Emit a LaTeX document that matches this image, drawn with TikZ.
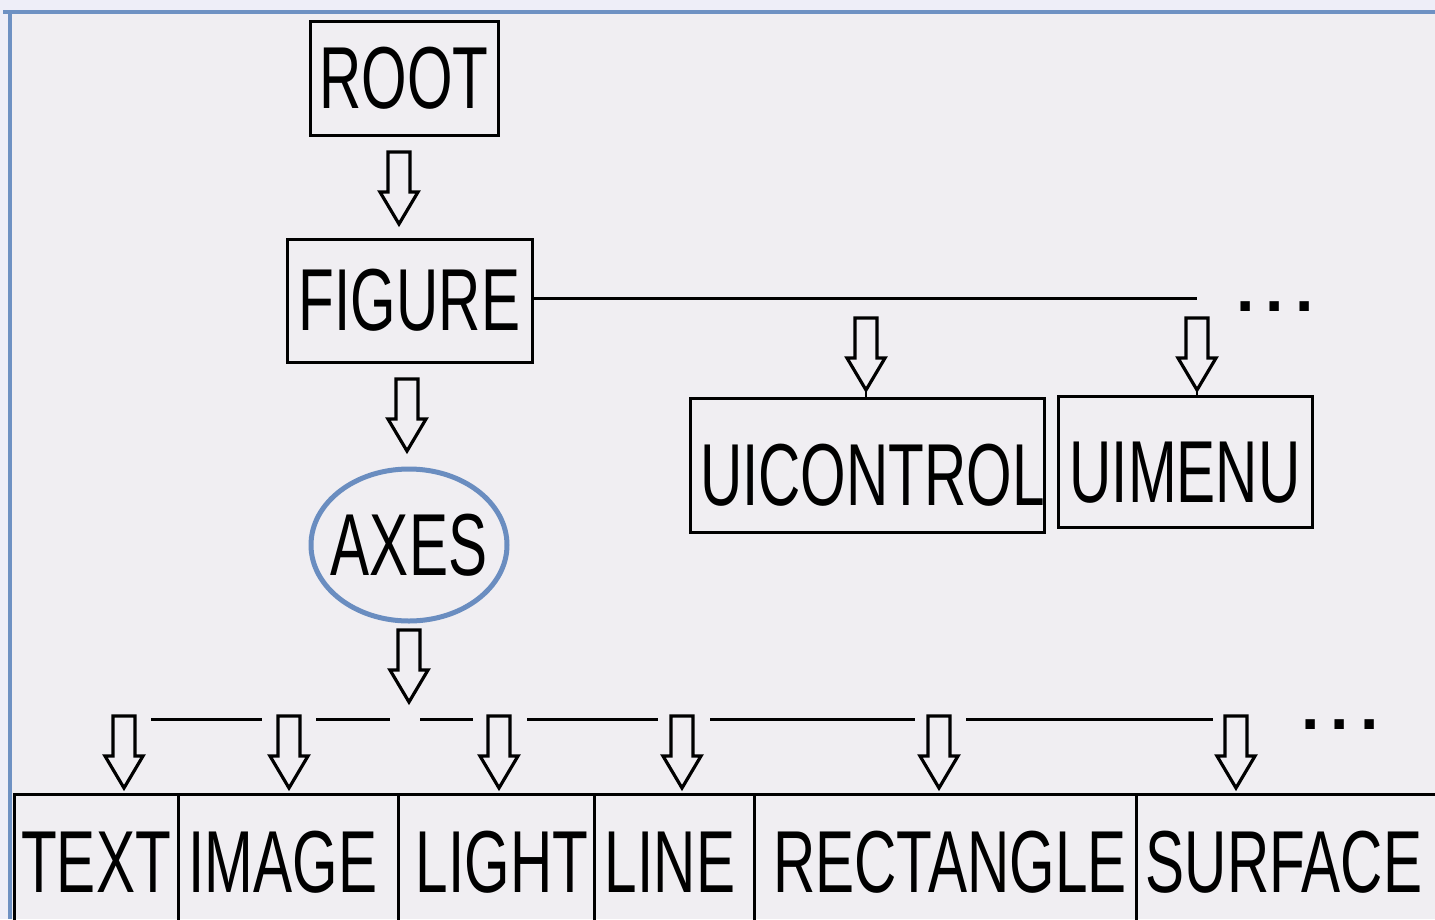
\documentclass[tikz,border=0pt]{standalone}
\usepackage{fontspec}
\usetikzlibrary{shapes.geometric}
\setmainfont{Liberation Sans}
\newfontfamily\nar[FakeStretch=0.665]{Liberation Sans}
\definecolor{bg}{RGB}{240,238,242}
\definecolor{topbg}{RGB}{238,238,248}
\definecolor{bluebd}{RGB}{110,145,195}
\definecolor{ellblue}{RGB}{106,141,192}
\begin{document}
\begin{tikzpicture}[x=1pt,y=-1pt,
  box/.style={draw, line width=3pt, inner sep=0pt, font=\nar\fontsize{88}{88}\selectfont},
  low/.style={text height=#1, text depth=0pt},
  bus/.style={line width=3pt},
  dots/.style={font=\bfseries\fontsize{66}{66}\selectfont, inner sep=0pt},
  darr/.pic={\draw[line width=3.2pt, line join=miter, fill=bg] (-11,0) -- (11,0) -- (11,40) -- (19,40) -- (0,72) -- (-19,40) -- (-11,40) -- cycle;}
]
\useasboundingbox (0,0) rectangle (1435,919);
\clip (0,0) rectangle (1435,919);
\fill[topbg] (0,0) rectangle (1435,919);
\fill[bg] (9,12) rectangle (1435,919);
\draw[bluebd, line width=4pt] (3,12) -- (1435,12);
\draw[bluebd, line width=4pt] (9.5,12) -- (9.5,919);

% top part
\node[box, minimum width=188pt, minimum height=114pt] (root) at (404,78) {ROOT};
\node[box, minimum width=245pt, minimum height=123pt] (figure) at (409.5,300.5) {FIGURE};
\node[draw=ellblue, line width=5pt, ellipse, minimum width=196pt, minimum height=152pt, inner sep=0pt, font=\nar\fontsize{88}{88}\selectfont] (axes) at (409,545) {\makebox[0pt]{AXES}};
\node[box, low=80pt, minimum width=353pt, minimum height=134pt] (uicontrol) at (867.5,465) {\hspace*{10pt}UICONTROL};
\node[box, low=82pt, minimum width=254pt, minimum height=131pt] (uimenu) at (1185,461.5) {UIMENU};

\pic at (399,152) {darr};
\pic at (407,379) {darr};
\pic at (409,630) {darr};

% figure branch
\coordinate (fend) at (1197,298);
\draw[bus] (figure.east |- fend) -- (fend);
\pic at (866,318) {darr};
\pic at (1197,318) {darr};
\draw[line width=1.5pt] (866,390) -- (uicontrol.north -| 866,0);
\draw[line width=1.5pt] (1197,390) -- (uimenu.north -| 1197,0);
\node[dots] (dots1) at (1275,307) {.\hspace{11pt}.\hspace{11pt}.};

% bottom row
\node[box, minimum width=164pt, minimum height=136pt] (text) at (96,862) {TEXT};
\node[box, minimum width=220pt, minimum height=136pt] (image) at (288,862) {IMAGE\hspace*{10pt}};
\node[box, minimum width=196pt, minimum height=136pt] (light) at (496,862) {\hspace*{12pt}LIGHT};
\node[box, minimum width=160pt, minimum height=136pt] (line) at (674,862) {LINE\hspace*{8pt}};
\node[box, minimum width=382pt, minimum height=136pt] (rect) at (945,862) {\hspace*{10pt}RECTANGLE};
\node[box, minimum width=304pt, minimum height=136pt] (surf) at (1288,862) {SURFACE\hspace*{8pt}};

\draw[bus] (151,719) -- (262,719);
\draw[bus] (316,719) -- (390,719);
\draw[bus] (420,719) -- (473,719);
\draw[bus] (527,719) -- (658,719);
\draw[bus] (710,719) -- (915,719);
\draw[bus] (966,719) -- (1213,719);
\foreach \xx in {124,289,499,682,939,1236} \pic at (\xx,716) {darr};
\node[dots] (dots2) at (1340,725) {.\hspace{11pt}.\hspace{11pt}.};
\end{tikzpicture}
\end{document}
